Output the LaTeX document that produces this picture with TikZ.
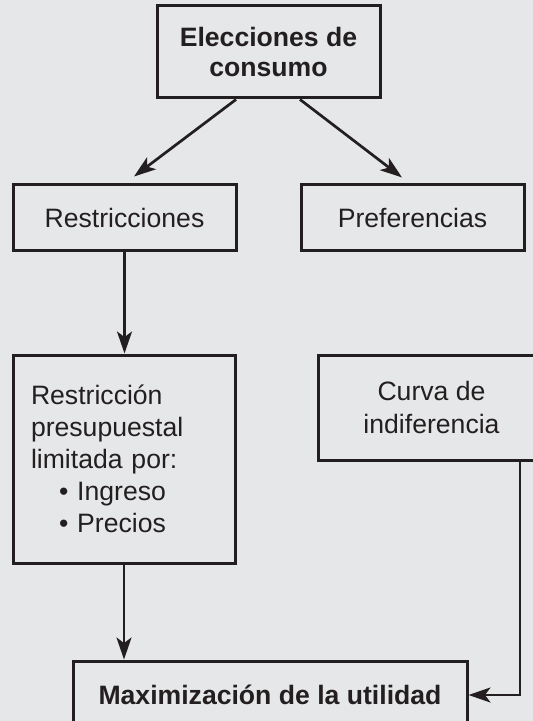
\documentclass[tikz,border=0pt]{standalone}
\usepackage{fontspec}
\setmainfont{Liberation Sans}
\usetikzlibrary{arrows.meta}
\definecolor{bggray}{RGB}{230,231,232}
\definecolor{inkdark}{RGB}{35,31,32}
\begin{document}
\begin{tikzpicture}[
  x=0.5pt, y=-0.5pt,
  cbox/.style={draw=inkdark, line width=1.5pt, inner sep=0pt, align=center,
    text=inkdark, font=\fontsize{13.3}{15.5}\selectfont},
  arr/.style={draw=inkdark, line width=1.35pt,
    -{Stealth[length=11pt, width=7.5pt, inset=2.8pt]}}
]
  \fill[bggray] (0,0) rectangle (533,721);
  \useasboundingbox (0,0) rectangle (533,721);
  \clip (0,0) rectangle (533,721);

  \node[cbox, minimum width=111.5pt, minimum height=46pt,
    font=\fontsize{13.3}{15}\selectfont\bfseries] (elec) at (268.5,52)
    {Elecciones de\\consumo};
  \node[cbox, minimum width=111.5pt, minimum height=33pt] (restr) at (124.5,218)
    {Restricciones};
  \node[cbox, minimum width=111.5pt, minimum height=33pt] (pref) at (412.5,218)
    {Preferencias};
  \node[cbox, minimum width=111pt, minimum height=104pt, text width=93pt,
    inner xsep=9pt, align=left, font=\fontsize{13.3}{16}\selectfont] (presup) at (124,459)
    {Restricción\\presupuestal\\limitada por:\\
     \hspace*{14pt}\textbullet\ Ingreso\\
     \hspace*{14pt}\textbullet\ Precios};
  \node[cbox, minimum width=113.5pt, minimum height=52.5pt,
    font=\fontsize{13.3}{16.5}\selectfont] (curva) at (431.5,407.5)
    {Curva de\\indiferencia};
  \node[cbox, minimum width=197pt, minimum height=34pt,
    font=\fontsize{13.3}{15}\selectfont\bfseries] (maxim) at (270,695)
    {Maximización de la utilidad};

  \coordinate (turn) at (520,695);

  \draw[arr] ([xshift=-16.25pt]elec.south) -- ([xshift=4.75pt,yshift=3.5pt]restr.north);
  \draw[arr] ([xshift=15.75pt]elec.south) -- ([xshift=-5.25pt,yshift=3pt]pref.north);
  \draw[arr] (restr.south) -- (restr.south |- presup.north);
  \draw[arr] (presup.south) -- (presup.south |- maxim.north);
  \draw[arr] (curva.south -| turn) -- (turn) -- (maxim.east);
\end{tikzpicture}
\end{document}
